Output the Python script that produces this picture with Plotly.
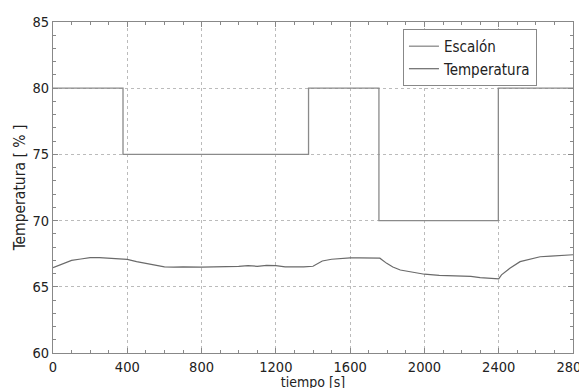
import plotly.graph_objects as go

# Step (Escalón) setpoint
step_t = [0, 377, 377, 1376, 1376, 1755, 1755, 2398, 2398, 2800]
step_v = [80, 80, 75, 75, 80, 80, 70, 70, 80, 80]

# Measured temperature
temp_t = [0, 25, 50, 100, 150, 200, 250, 300, 350, 400, 450, 500, 550, 600, 650, 700, 800, 900, 1000,
          1050, 1100, 1150, 1200, 1250, 1300, 1350, 1400, 1425, 1450, 1500, 1550, 1600, 1650, 1700, 1760,
          1797, 1830, 1870, 1940, 2000, 2080, 2150, 2190, 2250, 2300, 2350, 2390, 2400, 2415, 2460, 2515,
          2570, 2623, 2680, 2730, 2770, 2800]
temp_v = [66.45, 66.6, 66.75, 67.0, 67.1, 67.2, 67.2, 67.17, 67.12, 67.07, 66.9, 66.75, 66.65, 66.5, 66.48, 66.5,
          66.48, 66.5, 66.55, 66.6, 66.55, 66.62, 66.6, 66.5, 66.48, 66.5, 66.55, 66.75, 66.95, 67.08, 67.15,
          67.18, 67.18, 67.18, 67.16, 66.77, 66.5, 66.27, 66.07, 65.95, 65.87, 65.84, 65.82, 65.78, 65.7, 65.65,
          65.58, 65.6, 65.9, 66.4, 66.9, 67.1, 67.27, 67.32, 67.35, 67.4, 67.42]

x_ticks = [0, 400, 800, 1200, 1600, 2000, 2400, 2800]
y_ticks = [60, 65, 70, 75, 80, 85]

FONT = "DejaVu Sans Condensed, Liberation Sans Narrow, sans-serif"

fig = go.Figure()
fig.add_trace(go.Scatter(x=step_t, y=step_v, mode="lines", name="Escalón",
                         line=dict(color="#8a8a8a", width=1.3)))
fig.add_trace(go.Scatter(x=temp_t, y=temp_v, mode="lines", name="Temperatura",
                         line=dict(color="#6a6a6a", width=1.2)))

axis_common = dict(
    showline=True, linecolor="#888", linewidth=1.2, mirror="allticks",
    ticks="inside", ticklen=5, tickcolor="#888",
    showgrid=True, gridcolor="#bbb", griddash="dot", gridwidth=1,
    zeroline=False, automargin=False,
    tickfont=dict(family=FONT, size=14.5, color="#222"),
)

fig.update_xaxes(range=[0, 2800], tickvals=x_ticks,
                 minor=dict(dtick=100, tick0=0, ticks="inside", ticklen=3, tickcolor="#888", showgrid=False),
                 title=dict(text="tiempo [s]", font=dict(family=FONT, size=14, color="#222"), standoff=2),
                 **axis_common)
fig.update_yaxes(range=[60, 85], tickvals=y_ticks,
                 minor=dict(dtick=1, tick0=60, ticks="inside", ticklen=3, tickcolor="#888", showgrid=False),
                 title=dict(text="Temperatura [ % ]", font=dict(family=FONT, size=15.5, color="#222"), standoff=2),
                 **axis_common)

fig.update_layout(
    width=587, height=388,
    margin=dict(l=45, r=22, t=14, b=43),
    plot_bgcolor="white", paper_bgcolor="white",
    font=dict(family=FONT, color="#222"),
    legend=dict(x=0.673, y=0.979, xanchor="left", yanchor="top",
                bordercolor="#888", borderwidth=1, bgcolor="white",
                font=dict(family=FONT, size=15, color="#222"),
                tracegroupgap=0, itemwidth=30),
    showlegend=True,
)

fig.write_html("out.html")
